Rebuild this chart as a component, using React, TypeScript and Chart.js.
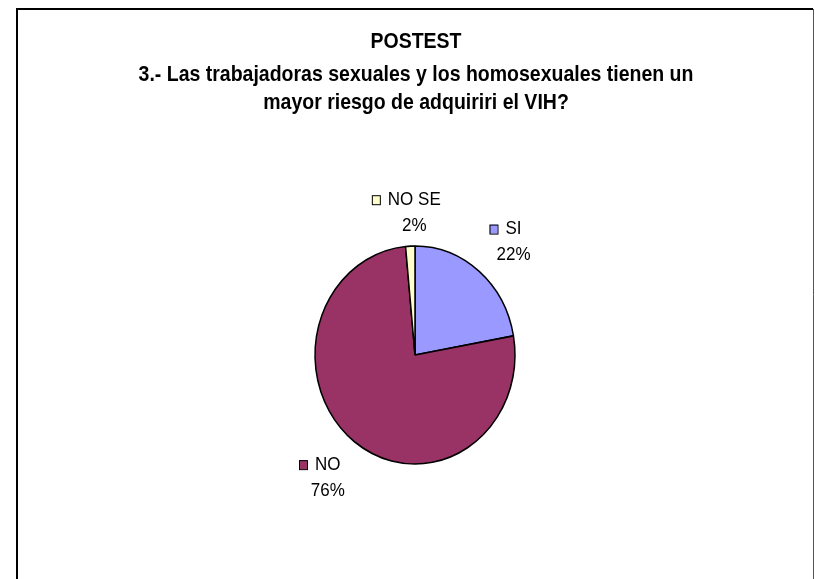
import { useEffect, useRef } from "react";
import { Chart, registerables } from "chart.js";

Chart.register(...registerables);

// ---- data ----
const categories = ["SI", "NO", "NO SE"];
const values = [22.2, 76.3, 1.5];
const sliceColors = ["#9999FF", "#993366", "#FFFFCC"];
const titleLines = [
  "POSTEST",
  "3.- Las trabajadoras sexuales y los homosexuales tienen un",
  "mayor riesgo de adquiriri el VIH?",
];

// ---- style / layout constants ----
const W = 815;
const H = 579;
const Y_SCALE = 1.09;
const TEXT_STRETCH = 1.1;
const FONT = '"Liberation Sans", Arial, Helvetica, sans-serif';
const TITLE_Y = [42, 75, 103];
const TITLE_X = 416;
const LABEL_GAP = 16;
const LABEL_SHIFT_Y = 3;
const MARK_W = 8;
const MARK_H = 9;
const MARK_GAP = 8;
const LINE_STEP = 26;

function stretchedText(ctx: CanvasRenderingContext2D, text: string, x: number, y: number) {
  ctx.save();
  ctx.translate(x, y);
  ctx.scale(1, TEXT_STRETCH);
  ctx.fillText(text, 0, 0);
  ctx.restore();
}

const framePlugin = {
  id: "frameAndTitle",
  afterDraw(chart: any) {
    const ctx = chart.ctx as CanvasRenderingContext2D;
    ctx.save();
    // frame
    ctx.strokeStyle = "#000";
    ctx.lineWidth = 2;
    ctx.beginPath();
    ctx.moveTo(17, H + 5);
    ctx.lineTo(17, 9);
    ctx.lineTo(813, 9);
    ctx.stroke();
    ctx.strokeStyle = "#555";
    ctx.lineWidth = 1;
    ctx.beginPath();
    ctx.moveTo(813.5, 9);
    ctx.lineTo(813.5, H + 5);
    ctx.stroke();
    // title
    ctx.fillStyle = "#000";
    ctx.textAlign = "center";
    ctx.textBaseline = "middle";
    ctx.font = `bold 19.5px ${FONT}`;
    titleLines.forEach((t, i) => stretchedText(ctx, t, TITLE_X, TITLE_Y[i]));
    ctx.restore();
  },
};

const ellipsePlugin = {
  id: "ellipse",
  beforeDatasetsDraw(chart: any) {
    const a = chart.getDatasetMeta(0).data[0] as any;
    const ctx = chart.ctx as CanvasRenderingContext2D;
    ctx.save();
    ctx.translate(a.x, a.y);
    ctx.scale(1, Y_SCALE);
    ctx.translate(-a.x, -a.y);
  },
  afterDatasetsDraw(chart: any) {
    chart.ctx.restore();
  },
};

const labelPlugin = {
  id: "sliceLabels",
  afterDraw(chart: any) {
    const ctx = chart.ctx as CanvasRenderingContext2D;
    const meta = chart.getDatasetMeta(0);
    const data = chart.data.datasets[0].data as number[];
    const total = data.reduce((s, v) => s + v, 0);
    ctx.save();
    ctx.font = `17px ${FONT}`;
    ctx.textBaseline = "middle";
    ctx.textAlign = "center";
    meta.data.forEach((arc: any, i: number) => {
      const { x, y, startAngle, endAngle, outerRadius } = arc.getProps(
        ["x", "y", "startAngle", "endAngle", "outerRadius"],
        true
      );
      const mid = (startAngle + endAngle) / 2;
      const dx = Math.cos(mid);
      const dy = Math.sin(mid);
      const ax = x + (outerRadius + LABEL_GAP) * dx;
      const ay = y + (outerRadius + LABEL_GAP) * dy * Y_SCALE + LABEL_SHIFT_Y;
      const name = chart.data.labels[i] as string;
      const pct = Math.round((data[i] / total) * 100) + "%";
      const nameW = ctx.measureText(name).width;
      const pctW = ctx.measureText(pct).width;
      const left = Math.min(-nameW / 2 - MARK_GAP - MARK_W, -pctW / 2);
      const right = Math.max(nameW / 2, pctW / 2);
      const w = right - left;
      const h = LINE_STEP + 12;
      const t = Math.max(-1, Math.min(1, dx * 2));
      const u = Math.max(-1, Math.min(1, dy * 2));
      const boxLeft = ax - (w * (1 - t)) / 2;
      const boxTop = ay - (h * (1 - u)) / 2;
      const cx = boxLeft - left;
      const l1 = boxTop + 6;
      const l2 = l1 + LINE_STEP;
      ctx.fillStyle = "#000";
      stretchedText(ctx, name, cx, l1);
      stretchedText(ctx, pct, cx, l2);
      const mx = cx - nameW / 2 - MARK_GAP - MARK_W;
      ctx.fillStyle = sliceColors[i];
      ctx.fillRect(mx, l1 - MARK_H / 2, MARK_W, MARK_H);
      ctx.strokeStyle = "#000";
      ctx.lineWidth = 1;
      ctx.strokeRect(mx + 0.5, l1 - MARK_H / 2 + 0.5, MARK_W, MARK_H);
    });
    ctx.restore();
  },
};

export default function App() {
  const ref = useRef<HTMLCanvasElement | null>(null);
  useEffect(() => {
    if (!ref.current) return;
    const chart = new Chart(ref.current, {
      type: "pie",
      data: {
        labels: categories,
        datasets: [
          {
            data: values,
            backgroundColor: sliceColors,
            borderColor: "#000",
            borderWidth: 1.5,
          },
        ],
      },
      options: {
        responsive: false,
        animation: false,
        devicePixelRatio: 1,
        radius: 100,
        layout: { padding: { left: 15, right: 0, top: 131, bottom: 0 } },
        plugins: {
          legend: { display: false },
          tooltip: { enabled: false },
          title: { display: false },
        },
      } as any,
      plugins: [ellipsePlugin, framePlugin, labelPlugin],
    });
    return () => chart.destroy();
  }, []);
  return (
    <div style={{ position: "absolute", left: 0, top: 0, width: W, height: H, background: "#fff" }}>
      <canvas ref={ref} width={W} height={H} style={{ display: "block" }} />
    </div>
  );
}
